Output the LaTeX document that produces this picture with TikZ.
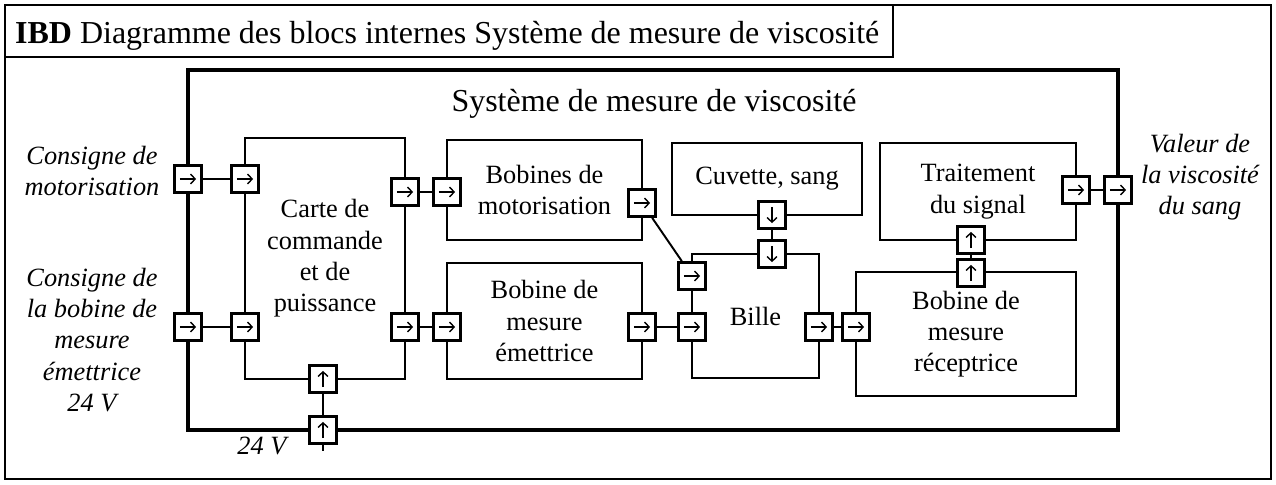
\documentclass[tikz,border=0pt]{standalone}
\usepackage{fontspec}
\setmainfont{Liberation Serif}
\usetikzlibrary{arrows,arrows.meta,positioning,fit}

\begin{document}
\begin{tikzpicture}[x=0.02cm, y=-0.02cm, font=\fontsize{15}{17.8}\selectfont,
		block/.style={draw=black, line width=1.6pt, inner sep=0pt, align=center, text centered},
		link/.style={line width=1.1pt},
		lbl/.style={align=center, font=\fontsize{15}{17.8}\selectfont\itshape}]
		\tikzset{port/.style={draw=black, line width=1.6pt, fill=white, minimum size=0.54cm, inner sep=0pt}}
		\tikzset{tip/.style={line width=0.8pt, -{Straight Barb[length=2.6pt,width=5.6pt]}}}
		\tikzset{pright/.style={port, path picture={\draw[tip] ([xshift=-4.6pt]path picture bounding box.center) -- ++(9.2pt,0);}}}
		\tikzset{pup/.style={port, path picture={\draw[tip] ([yshift=-4.6pt]path picture bounding box.center) -- ++(0,9.2pt);}}}
		\tikzset{pdown/.style={port, path picture={\draw[tip] ([yshift=4.6pt]path picture bounding box.center) -- ++(0,-9.2pt);}}}

		\useasboundingbox (0,0) rectangle (1276,484);
		\draw[line width=1.2pt] (5,5) rectangle (1271,479);
		\draw[line width=1.2pt] (5,5) rectangle (893,57);
		\node[anchor=west, font=\fontsize{18.2}{21}\selectfont] (ibd) at (9,36) {\textbf{IBD} Diagramme des blocs internes Système de mesure de viscosité};

		% le systeme et ses blocs
		\node[fit={(188,70) (1118,430)}, inner sep=0pt, draw=black, line width=2.8pt] (sys) {};
		\node[font=\fontsize{18.2}{21}\selectfont] (systitle) at (654,104) {Système de mesure de viscosité};

		\node[block, minimum width=3.2cm, minimum height=4.82cm] (carte) at (325,258.5) {Carte de\\commande\\et de\\puissance};
		\node[block, minimum width=3.9cm, minimum height=2cm] (bmot) at (544.5,190) {Bobines de\\motorisation};
		\node[block, minimum width=3.9cm, minimum height=2.32cm] (bem) at (544.5,321) {Bobine de\\mesure\\émettrice};
		\node[block, minimum width=3.8cm, minimum height=1.44cm] (cuve) at (767,179) {Cuvette, sang};
		\node[block, minimum width=2.54cm, minimum height=2.48cm] (bille) at (755.5,316) {Bille};
		\node[block, minimum width=3.92cm, minimum height=1.94cm] (trait) at (978,191.5) {Traitement\\du signal};
		\node[block, minimum width=4.4cm, minimum height=2.48cm] (brec) at (966,334) {Bobine de\\mesure\\réceptrice};

		% ports
		\node[pright] (sysin1) at (188,179) {};
		\node[pright] (sysin2) at (188,327) {};
		\node[pup] (sysin3) at (323,430) {};
		\node[pright] (sysout) at (1118,190) {};

		\node[pright] (cartein1) at (245,179) {};
		\node[pright] (cartein2) at (245,327) {};
		\node[pright] (carteout1) at (405,192) {};
		\node[pright] (carteout2) at (405,327) {};
		\node[pup] (cartepow) at (323,379) {};

		\node[pright] (bmotin) at (447,192) {};
		\node[pright] (bmotout) at (642,203) {};
		\node[pright] (bemin) at (447,327) {};
		\node[pright] (bemout) at (642,327) {};

		\node[pdown] (cuveout) at (772,215) {};

		\node[pright] (billein1) at (692,276) {};
		\node[pright] (billein2) at (692,327) {};
		\node[pdown] (billein3) at (772,254) {};
		\node[pright] (billeout) at (819,327) {};

		\node[pright] (brecin) at (856,327) {};
		\node[pup] (brecout) at (971,273) {};
		\node[pup] (traitin) at (971,240) {};
		\node[pright] (traitout) at (1076,190) {};

		\coordinate (pwr) at (323,451);

		% entrees et sorties
		\node[lbl] (consmot) at (92,171) {Consigne de\\motorisation};
		\node[lbl] (consbob) at (92,340) {Consigne de\\la bobine de\\mesure\\émettrice\\24 V};
		\node[lbl] (visco) at (1200,177) {Valeur de\\la viscosité\\du sang};
		\node[lbl] (alim) at (262,446) {24 V};

		\draw[link] (sysin1) -- (cartein1);
		\draw[link] (sysin2) -- (cartein2);
		\draw[link] (carteout1) -- (bmotin);
		\draw[link] (carteout2) -- (bemin);
		\draw[link] (bmotout) -- (billein1);
		\draw[link] (bemout) -- (billein2);
		\draw[link] (cuveout) -- (billein3);
		\draw[link] (billeout) -- (brecin);
		\draw[link] (brecout) -- (traitin);
		\draw[link] (traitout) -- (sysout);
		\draw[link] (cartepow) -- (sysin3);
		\draw[link] (sysin3) -- (pwr);

	\end{tikzpicture}
\end{document}
